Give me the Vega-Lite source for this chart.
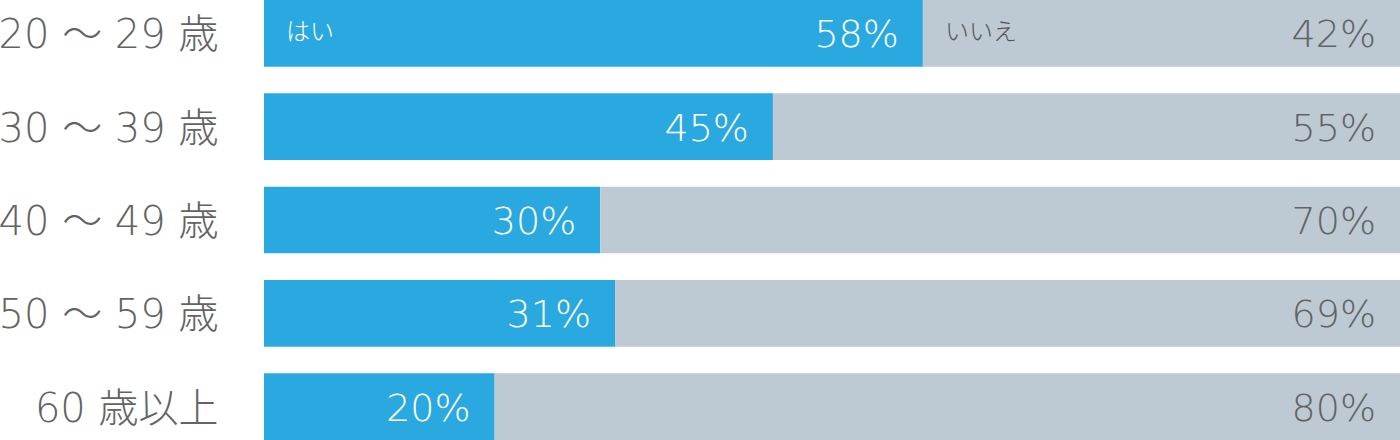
{
  "$schema": "https://vega.github.io/schema/vega-lite/v6.json",
  "width": 1136,
  "height": 440,
  "autosize": {"type": "none"},
  "padding": {"left": 264, "top": 0, "right": 0, "bottom": 0},
  "background": "white",
  "config": {"view": {"stroke": null}},
  "data": {
    "values": [
      {"age": "20 ～ 29 歳", "answer": "はい", "value": 58.0, "label": "58%"},
      {"age": "20 ～ 29 歳", "answer": "いいえ", "value": 42.0, "label": "42%"},
      {"age": "30 ～ 39 歳", "answer": "はい", "value": 44.8, "label": "45%"},
      {"age": "30 ～ 39 歳", "answer": "いいえ", "value": 55.2, "label": "55%"},
      {"age": "40 ～ 49 歳", "answer": "はい", "value": 29.6, "label": "30%"},
      {"age": "40 ～ 49 歳", "answer": "いいえ", "value": 70.4, "label": "70%"},
      {"age": "50 ～ 59 歳", "answer": "はい", "value": 30.9, "label": "31%"},
      {"age": "50 ～ 59 歳", "answer": "いいえ", "value": 69.1, "label": "69%"},
      {"age": "60 歳以上", "answer": "はい", "value": 20.3, "label": "20%"},
      {"age": "60 歳以上", "answer": "いいえ", "value": 79.7, "label": "80%"}
    ]
  },
  "transform": [
    {"stack": "value", "groupby": ["age"], "as": ["x0", "x1"], "sort": [{"field": "answer", "order": "descending"}]}
  ],
  "encoding": {
    "y": {
      "field": "age", "type": "nominal", "sort": null,
      "scale": {"paddingInner": 0.286, "paddingOuter": 0},
      "axis": {"title": null, "ticks": false, "domain": false, "labelPadding": 46, "labelOffset": 3, "labelFontSize": 40, "labelColor": "#636363", "labelFont": "'DejaVu Sans', 'Noto Sans CJK JP'", "labelFontWeight": 300, "labelLimit": 400}
    }
  },
  "layer": [
    {
      "mark": {"type": "bar"},
      "encoding": {
        "x": {"field": "x0", "type": "quantitative", "scale": {"domain": [0, 100], "nice": false}, "axis": null},
        "x2": {"field": "x1"},
        "color": {"field": "answer", "type": "nominal", "scale": {"domain": ["はい", "いいえ"], "range": ["#29a9e0", "#bdcad3"]}, "legend": null}
      }
    },
    {
      "mark": {"type": "text", "align": "right", "baseline": "middle", "dx": -24, "dy": 3, "fontSize": 38, "font": "'DejaVu Sans', 'Noto Sans CJK JP'", "fontWeight": 300},
      "encoding": {
        "x": {"field": "x1", "type": "quantitative"},
        "text": {"field": "label"},
        "color": {"condition": {"test": "datum.answer === 'はい'", "value": "#ffffff"}, "value": "#636363"}
      }
    },
    {
      "transform": [{"filter": "datum.age === '20 ～ 29 歳'"}],
      "mark": {"type": "text", "align": "left", "baseline": "middle", "dx": 22, "fontSize": 24, "font": "'Noto Sans CJK JP'", "fontWeight": 300},
      "encoding": {
        "x": {"field": "x0", "type": "quantitative"},
        "text": {"field": "answer"},
        "color": {"condition": {"test": "datum.answer === 'はい'", "value": "#ffffff"}, "value": "#555555"}
      }
    }
  ]
}
